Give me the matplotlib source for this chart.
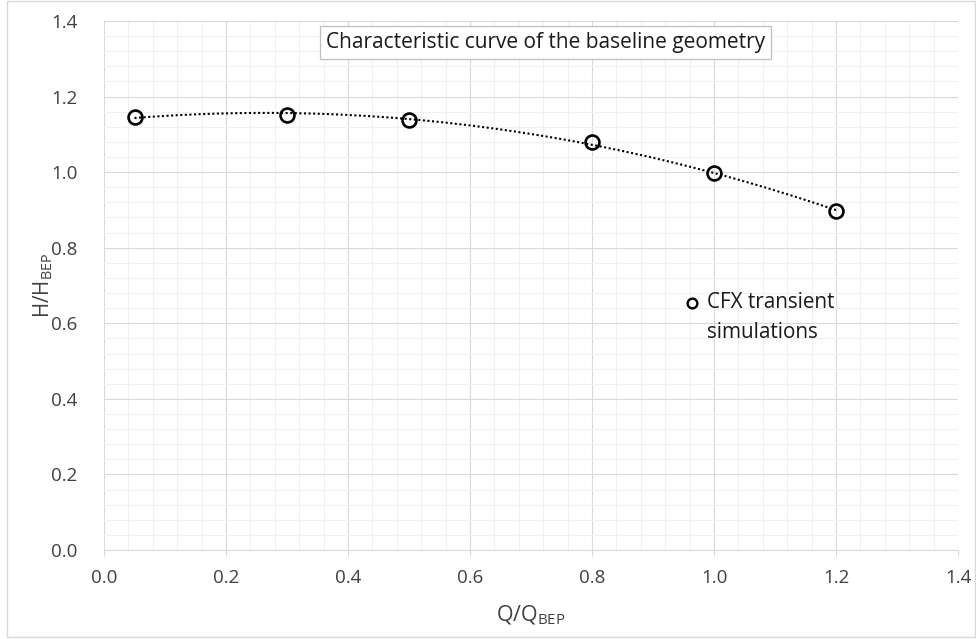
import numpy as np
import matplotlib
matplotlib.use("Agg")
import matplotlib.pyplot as plt
from matplotlib.ticker import MultipleLocator, FormatStrFormatter
from matplotlib.patches import Rectangle

# Data
q_ratio = [0.05, 0.30, 0.50, 0.80, 1.00, 1.20]
h_ratio = [1.147, 1.151, 1.137, 1.080, 0.998, 0.897]
series_label_1 = "CFX transient"
series_label_2 = "simulations"
title_text = "Characteristic curve of the baseline geometry"
x_label = r"Q/Q$_{\mathregular{BEP}}$"
y_label = r"H/H$_{\mathregular{BEP}}$"

FONT = 'Open Sans'
plt.rcParams['font.family'] = [FONT, 'DejaVu Sans']
plt.rcParams['mathtext.fontset'] = 'custom'
plt.rcParams['mathtext.rm'] = FONT

W, H = 976, 639
fig = plt.figure(figsize=(W / 100, H / 100), dpi=100)
ax = fig.add_axes([104 / W, 1 - 550 / H, (958 - 104) / W, (550 - 21) / H])
renderer = fig.canvas.get_renderer()


def fit_width(t, target_px):
    bb = t.get_window_extent(renderer=renderer)
    t.set_fontsize(t.get_fontsize() * target_px / bb.width)


def fit_height(t, target_px):
    bb = t.get_window_extent(renderer=renderer)
    t.set_fontsize(t.get_fontsize() * target_px / bb.height)


# figure border
fig.patches.append(Rectangle((7 / W, 1 - 637 / H), (975 - 7) / W, (637 - 1) / H,
                             transform=fig.transFigure, fill=False,
                             edgecolor='#d9d9d9', linewidth=1.0))

ax.set_xlim(0, 1.4)
ax.set_ylim(0, 1.4)
ax.xaxis.set_major_locator(MultipleLocator(0.2))
ax.yaxis.set_major_locator(MultipleLocator(0.2))
ax.xaxis.set_minor_locator(MultipleLocator(0.04))
ax.yaxis.set_minor_locator(MultipleLocator(0.04))
ax.xaxis.set_major_formatter(FormatStrFormatter('%.1f'))
ax.yaxis.set_major_formatter(FormatStrFormatter('%.1f'))
ax.grid(which='major', color='#d9d9d9', linewidth=0.8)
ax.grid(which='minor', color='#f0f0f0', linewidth=0.8)
ax.set_axisbelow(True)
for s in ['top', 'right', 'left']:
    ax.spines[s].set_visible(False)
ax.spines['bottom'].set_color('#d9d9d9')
ax.tick_params(axis='x', which='major', length=4, color='#d9d9d9', pad=10,
               labelsize=13.5, labelcolor='#404040')
ax.tick_params(axis='y', which='major', length=0, pad=19,
               labelsize=13.5, labelcolor='#404040')
ax.tick_params(which='minor', length=0)

# trendline (2nd order polynomial fit of data)
coef = np.polyfit(q_ratio, h_ratio, 2)
xs = np.linspace(min(q_ratio), max(q_ratio), 200)
ax.plot(xs, np.polyval(coef, xs), color='black', linewidth=1.5,
        linestyle=(0, (1, 1.2)), zorder=2)

ax.plot(q_ratio, h_ratio, linestyle='none', marker='o', markersize=10,
        markerfacecolor='none', markeredgecolor='black', markeredgewidth=1.9,
        zorder=3)

# legend-like annotation
ax.plot([0.964], [0.654], linestyle='none', marker='o', markersize=7,
        markerfacecolor='none', markeredgecolor='black', markeredgewidth=1.7)
t1 = ax.text(0.988, 0.654, series_label_1, fontsize=14, color='#1a1a1a',
             va='center', ha='left')
t2 = ax.text(0.988, 0.575, series_label_2, fontsize=14, color='#1a1a1a',
             va='center', ha='left')
fit_width(t1, 128)
t2.set_fontsize(t1.get_fontsize())

# title box
tt = ax.text(0.724, 1.343, title_text, fontsize=14, color='#1a1a1a',
             ha='center', va='center',
             bbox=dict(boxstyle='square,pad=0.3', facecolor='white',
                       edgecolor='#bfbfbf', linewidth=0.9))
fit_width(tt, 443)

xl = fig.text(531 / W, 1 - 615 / H, x_label, fontsize=14, color='#404040',
              ha='center', va='center')
fit_width(xl, 70)
yl = fig.text(43 / W, 1 - 285 / H, y_label, fontsize=14, color='#404040',
              ha='center', va='center', rotation=90)
fit_height(yl, 66)

fig.savefig('out.png', dpi=100)
